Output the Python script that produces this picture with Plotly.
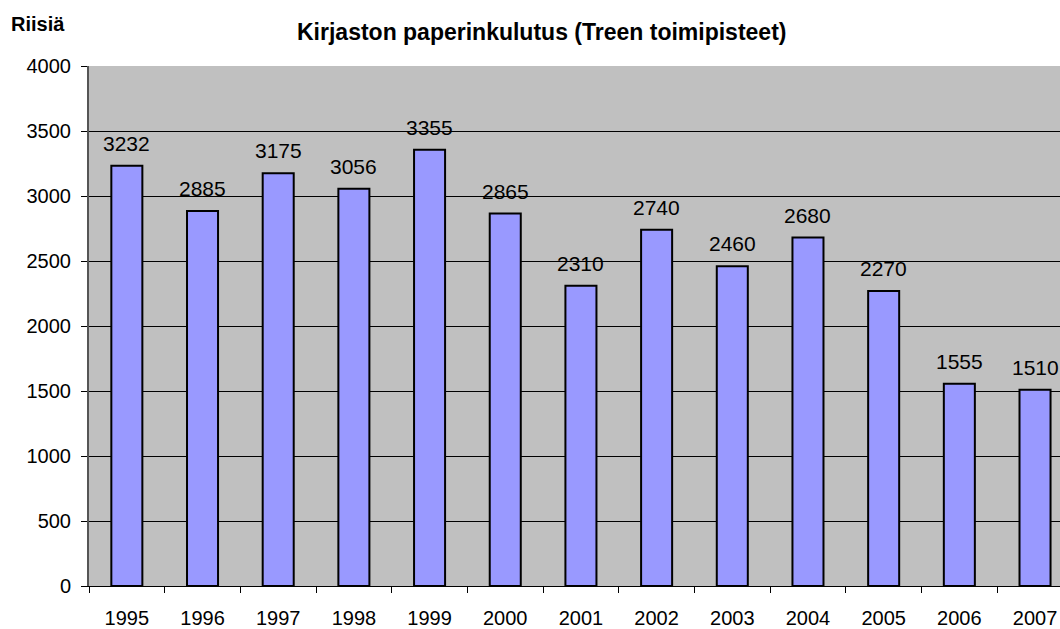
import plotly.graph_objects as go

years = ["1995", "1996", "1997", "1998", "1999", "2000", "2001", "2002", "2003", "2004", "2005", "2006", "2007"]
values = [3232, 2885, 3175, 3056, 3355, 2865, 2310, 2740, 2460, 2680, 2270, 1555, 1510]
y_ticks = [0, 500, 1000, 1500, 2000, 2500, 3000, 3500, 4000]
title_text = "Kirjaston paperinkulutus (Treen toimipisteet)"
y_title = "Riisiä"

FONT = "Arial, Liberation Sans, sans-serif"

fig = go.Figure()
fig.add_trace(go.Bar(
    x=years, y=values, width=0.41,
    marker=dict(color="#9999FF", line=dict(color="black", width=2)),
))

for i, v in enumerate(values):
    fig.add_annotation(x=i, y=v, text=str(v), showarrow=False,
                       yanchor="bottom", yshift=9,
                       font=dict(family=FONT, size=21, color="black"))

fig.add_annotation(xref="paper", yref="paper", x=0.466, y=1, yshift=34,
                   text=f"<b>{title_text}</b>",
                   showarrow=False, xanchor="center", yanchor="middle",
                   font=dict(family=FONT, size=23, color="black"))
fig.add_annotation(xref="paper", yref="paper", x=0, y=1, xshift=-80, yshift=42,
                   text=f"<b>{y_title}</b>",
                   showarrow=False, xanchor="left", yanchor="middle",
                   font=dict(family=FONT, size=20, color="black"))

fig.update_layout(
    width=1060, height=629,
    margin=dict(l=89, r=0, t=66, b=40),
    paper_bgcolor="white", plot_bgcolor="#C0C0C0",
    showlegend=False,
    font=dict(family=FONT, size=20, color="black"),
)
fig.update_xaxes(type="category", range=[-0.5, 12.33], tickson="boundaries",
                 ticks="outside", ticklen=6, tickcolor="black", tickwidth=1,
                 showline=True, linecolor="black", linewidth=1, showgrid=False,
                 ticklabelstandoff=14, tickfont=dict(family=FONT, size=20))
fig.update_yaxes(range=[0, 4000], tickvals=y_ticks, ticks="outside", ticklen=6,
                 tickcolor="black", showline=True, linecolor="#555555", linewidth=2,
                 showgrid=True, gridcolor="black", gridwidth=1, zeroline=False,
                 ticklabelstandoff=6, tickfont=dict(family=FONT, size=20))

fig.write_html("out.html", config={"displayModeBar": False},
               post_script="document.body.style.margin='0';document.body.style.overflow='hidden';")
